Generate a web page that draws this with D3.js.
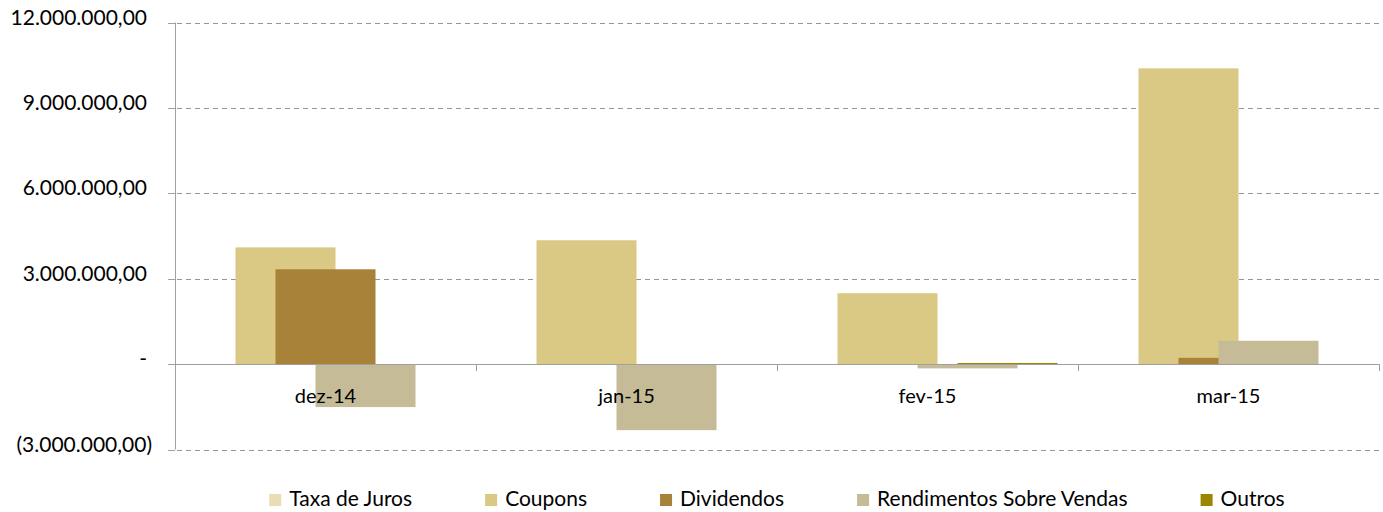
<!DOCTYPE html>
<html>
<head>
<meta charset="UTF-8">
<script src="https://d3js.org/d3.v7.min.js"></script>
<style>
  body { margin: 0; background: #fff; }
  svg text { font-family: Lato, 'Open Sans', sans-serif; fill: #000; }
</style>
</head>
<body>
<svg id="chart" width="1383" height="512"></svg>
<script>
const categories = ['dez-14', 'jan-15', 'fev-15', 'mar-15'];
const seriesNames = ['Taxa de Juros', 'Coupons', 'Dividendos', 'Rendimentos Sobre Vendas', 'Outros'];
const taxaDeJuros = [0, 0, 0, 0];
const coupons = [4100000, 4350000, 2490000, 10390000];
const dividendos = [3330000, 0, 0, 220000];
const rendimentos = [-1510000, -2320000, -150000, 820000];
const outros = [0, 0, 40000, 0];
const yTicks = [-3000000, 0, 3000000, 6000000, 9000000, 12000000];
const colors = ['#E8DDB5', '#DAC984', '#A88238', '#C5BC97', '#9C8500'];

const seriesValues = [taxaDeJuros, coupons, dividendos, rendimentos, outros];

const svg = d3.select('#chart');
const margin = {top: 22, right: 4, bottom: 63, left: 175};

const y = d3.scaleLinear().domain([-3000000, 12000000]).range([449.5, 22.5]);
const x = d3.scaleBand().domain(categories).range([margin.left, 1379]).padding(0);

const fmtNum = d3.formatLocale({decimal: ',', thousands: '.', grouping: [3], currency: ['', '']}).format(',.2f');
const fmt = v => v === 0 ? '-' : (v < 0 ? '(' + fmtNum(-v) + ')' : fmtNum(v));

// gridlines
svg.append('g').selectAll('line').data(yTicks.filter(t => t !== 0)).join('line')
  .attr('x1', margin.left - 7).attr('x2', 1379)
  .attr('y1', d => Math.round(y(d)) + 0.5).attr('y2', d => Math.round(y(d)) + 0.5)
  .attr('stroke', '#969696').attr('stroke-width', 1).attr('stroke-dasharray', '5,4');

// bars
const barW = 100, step = 40;
const groupW = barW + step * (seriesNames.length - 1);
const bars = svg.append('g');
seriesValues.forEach((vals, si) => {
  bars.selectAll(null).data(vals.map((v, i) => ({v, c: categories[i]}))).join('rect')
    .attr('x', d => x(d.c) + (x.bandwidth() - groupW) / 2 + si * step)
    .attr('width', barW)
    .attr('y', d => Math.min(y(d.v), y(0)))
    .attr('height', d => Math.abs(y(d.v) - y(0)))
    .attr('fill', colors[si]);
});

// y axis
const yAxisG = svg.append('g');
yAxisG.append('line').attr('x1', margin.left + 0.5).attr('x2', margin.left + 0.5)
  .attr('y1', y(12000000)).attr('y2', y(-3000000)).attr('stroke', '#a0a0a0');
yAxisG.selectAll('line.t').data(yTicks).join('line').attr('class', 't')
  .attr('x1', margin.left - 7).attr('x2', margin.left)
  .attr('y1', d => Math.round(y(d)) + 0.5).attr('y2', d => Math.round(y(d)) + 0.5)
  .attr('stroke', '#a0a0a0');
yAxisG.selectAll('text').data(yTicks).join('text')
  .attr('x', d => d < 0 ? 152 : 147).attr('y', d => y(d)).attr('dy', '0.1em')
  .attr('text-anchor', 'end').attr('font-size', 21)
  .text(fmt);

// zero line + category ticks
const xAxisG = svg.append('g');
xAxisG.append('line').attr('x1', margin.left).attr('x2', 1379)
  .attr('y1', Math.round(y(0)) + 0.5).attr('y2', Math.round(y(0)) + 0.5).attr('stroke', '#a0a0a0');
xAxisG.selectAll('line.t').data(categories).join('line').attr('class', 't')
  .attr('x1', d => x(d) + x.bandwidth() + 0.5).attr('x2', d => x(d) + x.bandwidth() + 0.5)
  .attr('y1', y(0)).attr('y2', y(0) + 7).attr('stroke', '#a0a0a0');
xAxisG.selectAll('text').data(categories).join('text')
  .attr('x', d => x(d) + x.bandwidth() / 2).attr('y', 403)
  .attr('text-anchor', 'middle').attr('font-size', 20)
  .text(d => d);

// legend
const leg = svg.append('g');
const items = leg.selectAll('g').data(seriesNames).join('g');
items.append('rect').attr('width', 12).attr('height', 12).attr('y', 494)
  .attr('fill', (d, i) => colors[i]);
items.append('text').attr('x', 20).attr('y', 506).attr('font-size', 21).text(d => d);
let widths = [];
items.each(function() { widths.push(20 + this.querySelector('text').getComputedTextLength()); });
const gap = 73;
const total = d3.sum(widths) + gap * (widths.length - 1);
let cx = (margin.left + 1379) / 2 - total / 2;
items.attr('transform', (d, i) => {
  const t = `translate(${cx},0)`;
  cx += widths[i] + gap;
  return t;
});
</script>
</body>
</html>
